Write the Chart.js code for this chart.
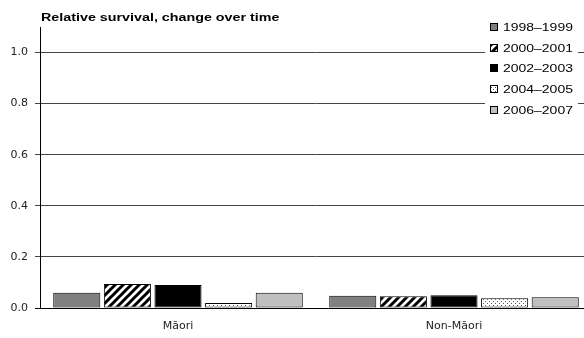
<!DOCTYPE html>
<html>
<head>
<meta charset="utf-8">
<script src="https://cdn.jsdelivr.net/npm/chart.js@4.4.0/dist/chart.umd.min.js"></script>
<style>
  html, body { margin: 0; padding: 0; background: #fff; overflow: hidden; }
  #wrap { position: relative; width: 592px; height: 338px; }
</style>
</head>
<body>
<div id="wrap"><canvas id="survivalChart"></canvas></div>
<script>
// chart data
var chartTitle = 'Relative survival, change over time';
var groups = ['Māori', 'Non-Māori'];
var periods = ['1998–1999', '2000–2001', '2002–2003', '2004–2005', '2006–2007'];
var p1998 = [0.060, 0.048];
var p2000 = [0.094, 0.046];
var p2002 = [0.090, 0.050];
var p2004 = [0.020, 0.038];
var p2006 = [0.060, 0.042];
var yTicks = [0.0, 0.2, 0.4, 0.6, 0.8, 1.0];

// hatch fill for 2000-2001
function makeHatch() {
    var c = document.createElement('canvas');
    c.width = 8; c.height = 8;
    var g = c.getContext('2d');
    g.fillStyle = '#fff';
    g.fillRect(0, 0, 8, 8);
    g.strokeStyle = '#000';
    g.lineWidth = 3;
    g.beginPath();
    g.moveTo(-2, 10); g.lineTo(10, -2);
    g.moveTo(-6, 6); g.lineTo(6, -6);
    g.moveTo(2, 14); g.lineTo(14, 2);
    g.stroke();
    return g.createPattern(c, 'repeat');
}

// dotted fill for 2004-2005
function makeDots() {
    var c = document.createElement('canvas');
    c.width = 4; c.height = 4;
    var g = c.getContext('2d');
    g.fillStyle = '#fff';
    g.fillRect(0, 0, 4, 4);
    g.fillStyle = '#555';
    g.fillRect(1, 1, 1, 1);
    g.fillRect(3, 3, 1, 1);
    return g.createPattern(c, 'repeat');
}

var fills = ['#808080', makeHatch(), '#000000', makeDots(), '#c0c0c0'];
var seriesData = [p1998, p2000, p2002, p2004, p2006];

Chart.defaults.font.family = '"DejaVu Sans", Arial, sans-serif';
Chart.defaults.font.size = 10;
Chart.defaults.color = '#000';

// title and legend drawn by hand, legend sits over the gridlines
// the source text is stretched sideways, so scale x a bit
var overlayPlugin = {
    id: 'overlay',
    afterDraw: function (chart) {
        var ctx = chart.ctx;
        ctx.save();
        ctx.textBaseline = 'middle';
        ctx.textAlign = 'left';

        ctx.save();
        ctx.translate(41, 18);
        ctx.scale(1.3, 1);
        ctx.font = 'bold 11px Arial, "Liberation Sans", sans-serif';
        ctx.fillStyle = '#000';
        ctx.fillText(chartTitle, 0, 0);
        ctx.restore();

        ctx.fillStyle = '#fff';
        ctx.fillRect(485, 15, 93, 105);
        for (var i = 0; i < periods.length; i++) {
            var y = Math.round(27 + i * 20.7);
            ctx.fillStyle = fills[i];
            ctx.fillRect(490, y - 4, 8, 8);
            ctx.strokeStyle = '#000';
            ctx.lineWidth = 1;
            ctx.strokeRect(490.5, y - 3.5, 7, 7);
            ctx.save();
            ctx.translate(503, y + 1);
            ctx.scale(1.27, 1);
            ctx.font = '11px Arial, "Liberation Sans", sans-serif';
            ctx.fillStyle = '#000';
            ctx.fillText(periods[i], 0, 0);
            ctx.restore();
        }
        ctx.restore();
    }
};

var ctx = document.getElementById('survivalChart').getContext('2d');
var survivalChart = new Chart(ctx, {
    type: 'bar',
    data: {
        labels: groups,
        datasets: periods.map(function (p, i) {
            return {
                label: p,
                data: seriesData[i],
                backgroundColor: fills[i],
                borderColor: '#000',
                borderWidth: 1,
                borderSkipped: false,
                categoryPercentage: 0.917,
                barPercentage: 0.93
            };
        })
    },
    options: {
        responsive: true,
        maintainAspectRatio: false,
        animation: false,
        layout: { padding: { top: 27, left: 0, right: 0, bottom: 0 } },
        plugins: {
            legend: { display: false },
            title: { display: false },
            tooltip: { enabled: false }
        },
        scales: {
            x: {
                grid: { display: false, drawTicks: false },
                border: { display: true, color: '#000', width: 1 },
                ticks: { padding: 12, color: '#222', font: { size: 11 } },
                afterFit: function (scale) { scale.height = 30; }
            },
            y: {
                min: 0,
                max: 1.1,
                afterBuildTicks: function (scale) {
                    scale.ticks = yTicks.map(function (v) { return { value: v }; });
                },
                grid: {
                    color: function (c) { return c.tick && c.tick.value === 0 ? '#000' : '#444'; },
                    lineWidth: 1,
                    tickLength: 5
                },
                border: { display: true, color: '#000', width: 1 },
                ticks: {
                    padding: 7,
                    color: '#222',
                    font: { size: 11 },
                    callback: function (v) { return Number(v).toFixed(1); }
                },
                afterFit: function (scale) { scale.width = 40; }
            }
        }
    },
    plugins: [overlayPlugin]
});
</script>
</body>
</html>
